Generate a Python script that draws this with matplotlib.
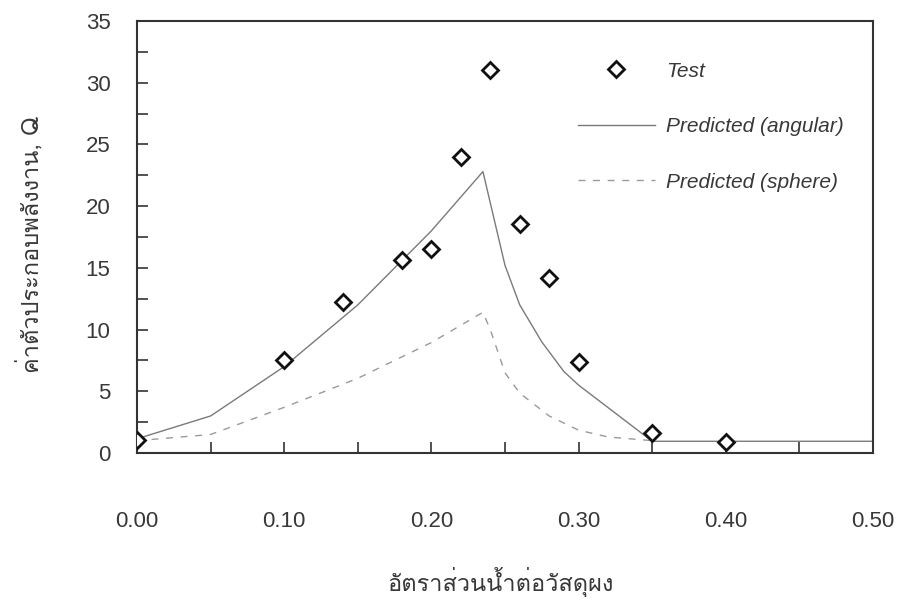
import numpy as np
import matplotlib
matplotlib.use('Agg')
import matplotlib.pyplot as plt
from matplotlib import font_manager, ft2font
from matplotlib.ticker import MultipleLocator, FormatStrFormatter

# measured values (water / powder ratio vs energy factor Q)
test_x = [0.00, 0.10, 0.14, 0.18, 0.20, 0.22, 0.24, 0.26, 0.28, 0.30, 0.35, 0.40]
test_q = [1.05, 7.55, 12.25, 15.6, 16.5, 24.0, 31.0, 18.55, 14.15, 7.4, 1.65, 0.92]

angular_x = [0.00, 0.05, 0.10, 0.15, 0.20, 0.235, 0.25, 0.26, 0.275, 0.29, 0.30, 0.35, 0.50]
angular_q = [1.15, 3.0, 7.0, 12.0, 18.0, 22.8, 15.2, 12.0, 9.0, 6.6, 5.5, 0.95, 0.95]

sphere_x = [0.00, 0.05, 0.10, 0.15, 0.20, 0.235, 0.24, 0.25, 0.26, 0.28, 0.30, 0.32, 0.35]
sphere_q = [1.0, 1.5, 3.7, 6.05, 8.95, 11.4, 10.0, 6.5, 4.85, 3.0, 1.85, 1.3, 1.0]

x_label = 'อัตราส่วนน้ำต่อวัสดุผง'
y_label = 'ค่าตัวประกอบพลังงาน, Q'


def thai_font():
    # pick any installed font that has Thai glyphs
    for f in font_manager.fontManager.ttflist:
        if f.style != 'normal' or f.weight not in (400, 'normal', 'regular'):
            continue
        try:
            if 0x0E2D in ft2font.FT2Font(f.fname).get_charmap():
                return f.name
        except Exception:
            pass
    return 'DejaVu Sans'


plt.rcParams['font.family'] = ['Liberation Sans', 'DejaVu Sans']
text_col = '#383838'

fig = plt.figure(figsize=(9.02, 6.05), dpi=100)
ax = fig.add_axes([137 / 902, 1 - 453 / 605, 736 / 902, 432 / 605])

ax.plot(test_x, test_q, linestyle='none', marker='D', markersize=8,
        markerfacecolor='white', markeredgecolor='#111111', markeredgewidth=2,
        label='Test', zorder=3)
ax.plot(angular_x, angular_q, color='#7a7a7a', lw=1.0, label='Predicted (angular)')
ax.plot(sphere_x, sphere_q, color='#9a9a9a', lw=1.0, dashes=(5, 5.5),
        label='Predicted (sphere)')

ax.set_xlim(0, 0.5)
ax.set_ylim(0, 35)
ax.xaxis.set_major_locator(MultipleLocator(0.1))
ax.xaxis.set_minor_locator(MultipleLocator(0.05))
ax.xaxis.set_major_formatter(FormatStrFormatter('%.2f'))
ax.yaxis.set_major_locator(MultipleLocator(5))
ax.yaxis.set_minor_locator(MultipleLocator(2.5))
ax.tick_params(which='both', direction='in', length=8, width=1.2, color='#333333',
               top=False, right=False)
ax.tick_params(axis='x', which='major', pad=42, labelsize=16, labelcolor=text_col)
ax.tick_params(axis='y', which='major', pad=19, labelsize=16, labelcolor=text_col)
for s in ax.spines.values():
    s.set_linewidth(1.5)
    s.set_color('#333333')

leg = ax.legend(loc='upper left', bbox_to_anchor=(0.599, 0.906), frameon=False,
                prop={'style': 'italic', 'size': 15}, handlelength=3.7,
                handletextpad=0.55, labelspacing=1.75, borderpad=0, borderaxespad=0)
for t in leg.get_texts():
    t.set_color(text_col)

tf = thai_font()
fig.text(500 / 902, 1 - 582 / 605, x_label, ha='center', va='center',
         fontsize=17, color=text_col, family=[tf, 'DejaVu Sans'])
fig.text(30 / 902, 1 - 244 / 605, y_label, ha='center', va='center', rotation=90,
         fontsize=17, color=text_col, family=[tf, 'DejaVu Sans'])

fig.savefig('out.png', dpi=100, facecolor='white')
